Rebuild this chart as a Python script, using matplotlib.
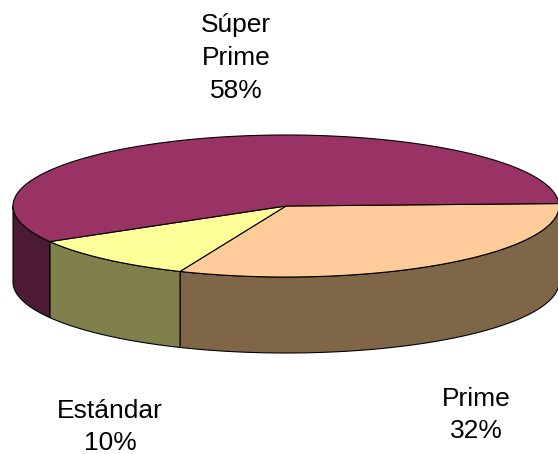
import numpy as np
import matplotlib
matplotlib.use("Agg")
import matplotlib.pyplot as plt
from matplotlib.patches import Polygon

categories = ["Prime", "Estándar", "Súper\nPrime"]
values = [31.9, 10.3, 57.8]
top_colors = ["#FFCC99", "#FFFF99", "#993366"]
side_colors = ["#806648", "#80804D", "#4D1A33"]
label_pos = [(476, 415), (110, 427), (236, 58)]

W, H = 558, 454
cx, cy, rx, ry, depth = 286, 206, 273, 71, 76
start = -2.0

fig = plt.figure(figsize=(W / 100, H / 100), dpi=100, facecolor="white")
ax = fig.add_axes([0, 0, 1, 1])
ax.set_xlim(0, W)
ax.set_ylim(H, 0)
ax.axis("off")


def rim(a0, a1, dy=0.0):
    t = np.radians(np.linspace(a0, a1, max(int(abs(a1 - a0) * 2), 2)))
    return np.column_stack([cx + rx * np.cos(t), cy + dy + ry * np.sin(t)])


edges = start + np.concatenate([[0], np.cumsum(values)]) * 3.6
for i in range(len(values)):
    a0, a1 = edges[i], edges[i + 1]
    for lo, hi in [(a0, min(a1, 180)), (max(a0, 360), a1)]:
        if hi > lo:
            pts = np.vstack([rim(lo, hi), rim(lo, hi, depth)[::-1]])
            ax.add_patch(Polygon(pts, closed=True, fc=side_colors[i], ec="black", lw=0.8))
for i in range(len(values)):
    pts = np.vstack([[[cx, cy]], rim(edges[i], edges[i + 1])])
    ax.add_patch(Polygon(pts, closed=True, fc=top_colors[i], ec="black", lw=0.8, joinstyle="round"))

for c, v, p in zip(categories, values, label_pos):
    ax.text(p[0], p[1], f"{c}\n{v:.0f}%", ha="center", va="center", fontsize=19,
            family="Liberation Sans", color="black", linespacing=1.45)

fig.savefig("out.png", dpi=100, facecolor="white")
